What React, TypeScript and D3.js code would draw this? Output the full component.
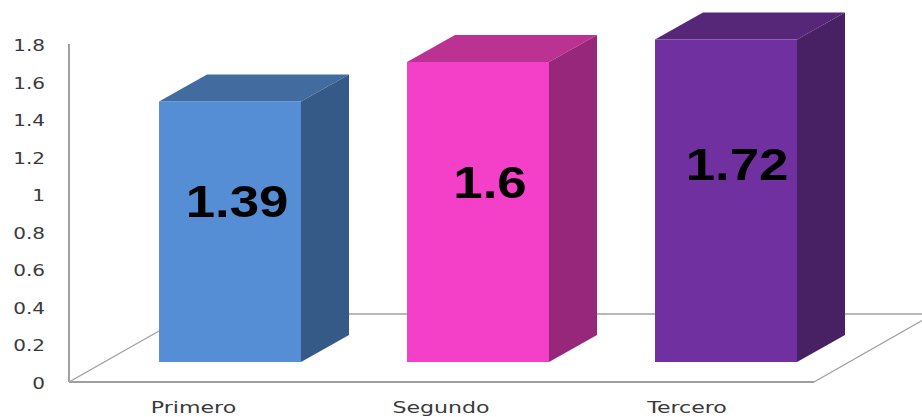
import React from "react";
import * as d3 from "d3";

const categories = ["Primero", "Segundo", "Tercero"];
const values = [1.39, 1.6, 1.72];
const labels = ["1.39", "1.6", "1.72"];
const frontColors = ["#558ed5", "#f43fc8", "#7030a0"];
const topColors = ["#426ca0", "#bc3293", "#562678"];
const sideColors = ["#355a87", "#96277a", "#482064"];
const axisTicks = [0, 0.2, 0.4, 0.6, 0.8, 1, 1.2, 1.4, 1.6, 1.8];
// Data label centres relative to each bar's centre, and their vertical centres.
const labelDx = [7, 12, 11];
const labelY = [202, 183, 165];
// Category label centres relative to each bar's centre.
const categoryDx = [-36.5, -37, -39];

const W = 922;
const H = 417;
const FLOOR_LIFT = 20;
const DEPTH_X = 48;
const DEPTH_Y = 27;

const y = d3.scaleLinear().domain([0, 1.8]).range([382, 44.5]);
const x = d3
  .scaleBand<string>()
  .domain(categories)
  .range([159, 797])
  .paddingInner(0.4274)
  .paddingOuter(0);

const poly = d3.line<[number, number]>();

export default function App() {
  const base = y(0) - FLOOR_LIFT;
  const bw = x.bandwidth();
  return (
    <svg
      width={W}
      height={H}
      viewBox={`0 0 ${W} ${H}`}
      style={{ position: "absolute", left: 0, top: 0, background: "#fff" }}
    >
      {/* back wall and floor outline */}
      <g fill="none" stroke="#a0a0a0">
        <line x1={69} y1={44} x2={69} y2={y(0)} strokeWidth={2} />
        <line x1={69} y1={y(0)} x2={814} y2={y(0)} strokeWidth={2} />
        <line x1={69} y1={y(0)} x2={189} y2={314} strokeWidth={1.4} />
        <line x1={189} y1={314} x2={922} y2={314} strokeWidth={1.4} />
        <line x1={814} y1={y(0)} x2={922} y2={320.5} strokeWidth={1.4} />
      </g>

      {/* value axis labels */}
      {axisTicks.map((t) => (
        <text
          key={t}
          transform={`translate(45,${y(t) + 1}) scale(1.25,1)`}
          textAnchor="end"
          dominantBaseline="central"
          fontFamily="'DejaVu Sans', sans-serif"
          fontSize={16}
          fill="#3a3a3a"
        >
          {t}
        </text>
      ))}

      {/* extruded bars */}
      {categories.map((c, i) => {
        const x0 = x(c)!;
        const x1 = x0 + bw;
        const top = base - (y(0) - y(values[i]));
        const topFace = poly([
          [x0, top],
          [x0 + DEPTH_X, top - DEPTH_Y],
          [x1 + DEPTH_X, top - DEPTH_Y],
          [x1, top],
        ])!;
        const sideFace = poly([
          [x1, top],
          [x1 + DEPTH_X, top - DEPTH_Y],
          [x1 + DEPTH_X, base - DEPTH_Y],
          [x1, base],
        ])!;
        return (
          <g key={c}>
            <path d={topFace + "Z"} fill={topColors[i]} />
            <path d={sideFace + "Z"} fill={sideColors[i]} />
            <rect x={x0} y={top} width={bw} height={base - top} fill={frontColors[i]} />
            <text
              transform={`translate(${x0 + bw / 2 + labelDx[i]},${labelY[i]}) scale(1.2,1)`}
              textAnchor="middle"
              dominantBaseline="central"
              fontFamily="'Liberation Sans', Arial, sans-serif"
              fontWeight="bold"
              fontSize={44}
              fill="#000"
            >
              {labels[i]}
            </text>
          </g>
        );
      })}

      {/* category labels */}
      {categories.map((c, i) => (
        <text
          key={c}
          transform={`translate(${x(c)! + bw / 2 + categoryDx[i]},413) scale(1.38,1)`}
          textAnchor="middle"
          fontFamily="'DejaVu Sans', sans-serif"
          fontSize={16}
          fill="#3a3a3a"
        >
          {c}
        </text>
      ))}
    </svg>
  );
}
